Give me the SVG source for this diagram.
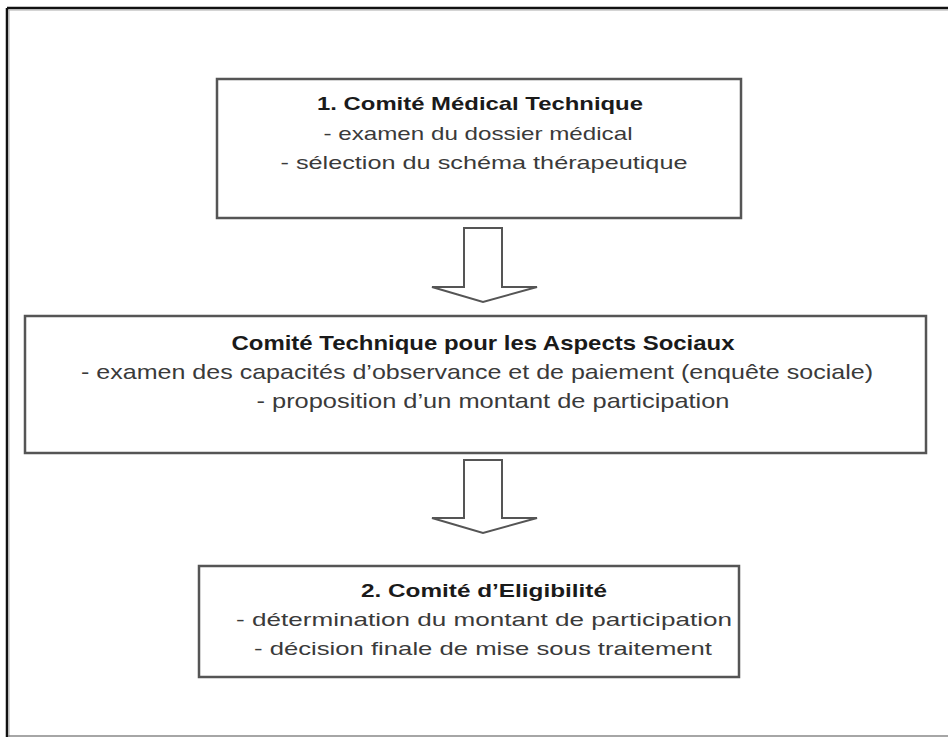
<svg xmlns="http://www.w3.org/2000/svg" width="948" height="737" viewBox="0 0 948 737">
<style>
.box{fill:#fff;stroke:#555;stroke-width:2.5}
.t{font-family:"Liberation Sans",Arial,sans-serif;font-weight:bold;font-size:19px;fill:#1a1a1a;text-anchor:middle}
.l{font-family:"Liberation Sans",Arial,sans-serif;font-size:19px;fill:#3a3a3a;text-anchor:middle}
.c{font-size:21px}
.arr{fill:#fff;stroke:#555;stroke-width:2;stroke-linejoin:miter}
</style>
<rect width="948" height="737" fill="#fff"/>
<g id="frame">
<line x1="7" y1="8" x2="948" y2="8" stroke="#111" stroke-width="2.5"/>
<line x1="9" y1="10" x2="948" y2="10" stroke="#aaa" stroke-width="1"/>
<line x1="7" y1="8" x2="7" y2="737" stroke="#111" stroke-width="2.5"/>
<line x1="9" y1="10" x2="9" y2="737" stroke="#aaa" stroke-width="1"/>
<line x1="8" y1="736" x2="948" y2="736" stroke="#888" stroke-width="1.5"/>
</g>
<g id="n1">
<rect class="box" x="217" y="79" width="524" height="139"/>
<text class="t" x="480" y="110" textLength="326" lengthAdjust="spacingAndGlyphs">1. Comité Médical Technique</text>
<text class="l" x="478" y="140" textLength="309" lengthAdjust="spacingAndGlyphs">- examen du dossier médical</text>
<text class="l" x="484" y="169" textLength="407" lengthAdjust="spacingAndGlyphs">- sélection du schéma thérapeutique</text>
</g>
<g id="n2">
<rect class="box" x="25" y="316" width="901" height="137"/>
<text class="t c" x="483" y="350" textLength="503" lengthAdjust="spacingAndGlyphs">Comité Technique pour les Aspects Sociaux</text>
<text class="l c" x="477" y="379" textLength="792" lengthAdjust="spacingAndGlyphs">- examen des capacités d’observance et de paiement (enquête sociale)</text>
<text class="l c" x="493" y="408" textLength="473" lengthAdjust="spacingAndGlyphs">- proposition d’un montant de participation</text>
</g>
<g id="n3">
<rect class="box" x="199" y="566" width="540" height="111"/>
<text class="t" x="484" y="597" textLength="246" lengthAdjust="spacingAndGlyphs">2. Comité d’Eligibilité</text>
<text class="l" x="484" y="626" textLength="496" lengthAdjust="spacingAndGlyphs">- détermination du montant de participation</text>
<text class="l" x="483" y="655" textLength="458" lengthAdjust="spacingAndGlyphs">- décision finale de mise sous traitement</text>
</g>
<g id="connectors">
<path class="arr" d="M464,228 H502 V287 H537 L483,302 L432,287 H464 Z"/>
<path class="arr" d="M464,460 H502 V518 H537 L483,533 L432,518 H464 Z"/>
</g>
</svg>
